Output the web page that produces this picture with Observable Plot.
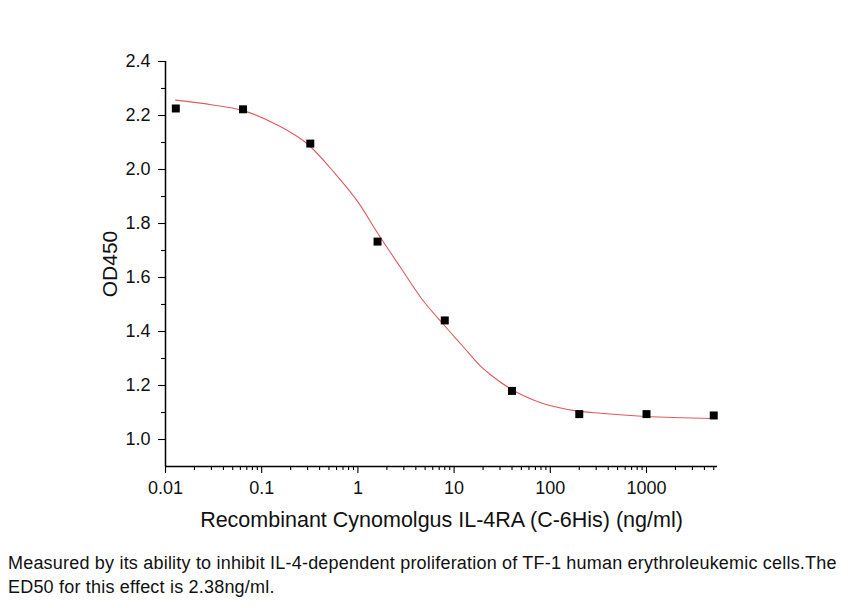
<!DOCTYPE html>
<html>
<head>
<meta charset="utf-8">
<script src="https://cdn.jsdelivr.net/npm/d3@7"></script>
<script src="https://cdn.jsdelivr.net/npm/@observablehq/plot@0.6"></script>
<style>
  html, body { margin: 0; padding: 0; background: #fff; }
  #chart svg { display: block; }
  .caption { font-family: "Liberation Sans", Arial, sans-serif; font-size: 18px; letter-spacing: 0.2px; line-height: 24px; color: #111; padding-left: 8px; width: 845px; white-space: nowrap; }
</style>
</head>
<body>
<div id="chart"></div>
<div class="caption">Measured by its ability to inhibit IL-4-dependent proliferation of TF-1 human erythroleukemic cells.The<br>ED50 for this effect is 2.38ng/ml.</div>
<script>
// measured points
const concentration = [0.0128, 0.064, 0.32, 1.6, 8, 40, 200, 1000, 5000];
const od450 = [2.226, 2.223, 2.096, 1.733, 1.441, 1.180, 1.094, 1.094, 1.089];
// fitted curve
const fitX = [0.0127, 0.03, 0.0627, 0.14, 0.314, 0.557, 1, 1.6, 2.8, 4.52, 7.8, 12, 18.8, 23.9, 39.3, 73, 196, 333, 977, 4850];
const fitY = [2.257, 2.240, 2.219, 2.168, 2.088, 1.992, 1.880, 1.765, 1.635, 1.525, 1.425, 1.350, 1.272, 1.240, 1.186, 1.141, 1.105, 1.097, 1.085, 1.078];
// axis ticks
const xMajor = [0.01, 0.1, 1, 10, 100, 1000];
const xLabels = ["0.01", "0.1", "1", "10", "100", "1000"];
const yMajor = [1.0, 1.2, 1.4, 1.6, 1.8, 2.0, 2.2, 2.4];
const yMinor = [1.1, 1.3, 1.5, 1.7, 1.9, 2.1, 2.3];
const xMinor = [];
for (const d of xMajor) for (let k = 2; k <= 9; k++) { const v = +(d * k).toPrecision(3); if (v <= 5000) xMinor.push(v); }

const points = concentration.map((c, i) => ({x: c, y: od450[i]}));
const fit = fitX.map((c, i) => ({x: c, y: fitY[i]}));

const xDomain = [0.01, 5470];
const yDomain = [0.9, 2.4];
const font = "Liberation Sans, Arial, sans-serif";

const chart = Plot.plot({
  width: 853,
  height: 551,
  marginLeft: 165,
  marginRight: 136,
  marginTop: 61,
  marginBottom: 85,
  style: {fontFamily: font, color: "#111", background: "#fff"},
  x: {type: "log", domain: xDomain, axis: null},
  y: {domain: yDomain, axis: null},
  marks: [
    Plot.axisX(xMinor, {tickSize: 4, text: null, label: null, stroke: "#000", strokeWidth: 1.1}),
    Plot.axisX(xMajor, {tickSize: 7, tickPadding: 8, label: null, tickFormat: (d) => xLabels[xMajor.indexOf(d)], fontSize: 18, fill: "#111", stroke: "#000", strokeWidth: 1.1}),
    Plot.axisY(yMinor, {tickSize: 4, text: null, label: null, stroke: "#000", strokeWidth: 1.1}),
    Plot.axisY(yMajor, {tickSize: 7, tickPadding: 8, label: null, tickFormat: d3.format(".1f"), fontSize: 18, fill: "#111", stroke: "#000", strokeWidth: 1.1}),
    Plot.ruleX([xDomain[0]], {y1: yDomain[0], y2: yDomain[1], stroke: "#000", strokeWidth: 1.5}),
    Plot.ruleY([yDomain[0]], {x1: xDomain[0], x2: xDomain[1], stroke: "#000", strokeWidth: 1.5}),
    Plot.line(fit, {x: "x", y: "y", curve: "monotone-x", stroke: "#e05a5f", strokeWidth: 1.1}),
    Plot.dot(points, {x: "x", y: "y", symbol: "square", r: 4.5, fill: "#000", stroke: null}),
    Plot.text(["Recombinant Cynomolgus IL-4RA (C-6His) (ng/ml)"], {frameAnchor: "bottom", textAnchor: "middle", lineAnchor: "middle", dy: 54, fontSize: 21.5, fill: "#111"}),
    Plot.text(["OD450"], {frameAnchor: "left", textAnchor: "middle", lineAnchor: "middle", dx: -55, rotate: -90, fontSize: 21, fill: "#111"})
  ]
});
document.getElementById("chart").appendChild(chart);
</script>
</body>
</html>
